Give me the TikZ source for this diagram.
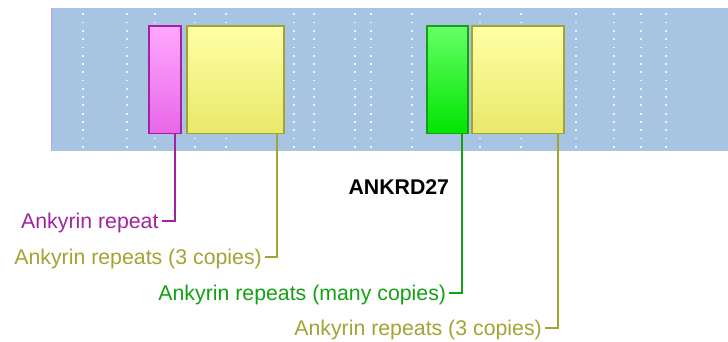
\documentclass[tikz,border=0pt]{standalone}
\usepackage{fontspec}
\setmainfont{Liberation Sans}
\definecolor{bgblue}{HTML}{A8C4E3}
\definecolor{dotc}{HTML}{EEF3FA}
\definecolor{pinkline}{HTML}{A222A2}
\definecolor{olive}{HTML}{A3A334}
\definecolor{grn}{HTML}{14A014}
\definecolor{pinkA}{HTML}{FFA8FF}
\definecolor{pinkB}{HTML}{FFA0FF}
\definecolor{pinkC}{HTML}{E866E8}
\definecolor{yelA}{HTML}{FFFFA6}
\definecolor{yelB}{HTML}{FFFF9C}
\definecolor{yelC}{HTML}{E8E86A}
\definecolor{grnA}{HTML}{66FF66}
\definecolor{grnB}{HTML}{38F838}
\definecolor{grnC}{HTML}{00E400}
\begin{document}
\begin{tikzpicture}[x=1pt,y=-1pt,
  domainbox/.style={draw, line width=1.8pt, inner sep=0pt, anchor=north west, minimum height=107.4pt},
  pinkbox/.style={domainbox, draw=pinkline, top color=pinkA, middle color=pinkB, bottom color=pinkC},
  yelbox/.style={domainbox, draw=olive, top color=yelA, middle color=yelB, bottom color=yelC},
  grnbox/.style={domainbox, draw=grn, top color=grnA, middle color=grnB, bottom color=grnC},
  conn/.style={line width=2pt},
  lab/.style={anchor=base east, inner sep=0pt, font=\fontsize{21.3}{25}\selectfont}
]
\useasboundingbox (0,0) rectangle (728,342);
% background band
\fill[bgblue] (51,8) rectangle (728,151);
\draw[pinkC!40!bgblue, line width=1pt] (51.5,8) -- (51.5,151);
% dotted grid
\foreach \x in {83.3,127,155.3,194.7,226.3,294,314.3,355,370.7,412.3,480,521,576,614,641,666}{
  \foreach \k in {0,...,16}{
    \fill[dotc] (\x-0.9,14.3+8.28*\k-0.9) rectangle ++(1.8,1.8);
  }
}
% domains
\node[pinkbox, minimum width=32pt] (pbox) at (148.3,25.3) {};
\node[yelbox, minimum width=96.7pt] (ybox1) at (186,25.3) {};
\node[grnbox, minimum width=41.3pt] (gbox) at (425.7,25.3) {};
\node[yelbox, minimum width=92.6pt] (ybox2) at (470.7,25.3) {};
% tick ends
\coordinate (c1) at (161.7,221);
\coordinate (c2) at (265,256.7);
\coordinate (c3) at (449.3,292.7);
\coordinate (c4) at (545,327.7);
% connectors
\draw[conn, pinkline] ([xshift=-7.3pt]pbox.south east) |- (c1);
\draw[conn, olive] ([xshift=-7.3pt]ybox1.south east) |- (c2);
\draw[conn, grn] ([xshift=-7.3pt]gbox.south east) |- (c3);
\draw[conn, olive] ([xshift=-7.3pt]ybox2.south east) |- (c4);
% labels
\node[lab, text=pinkline] (l1) at ([xshift=-3pt,yshift=-7.4pt]c1) {Ankyrin repeat};
\node[lab, text=olive] (l2) at ([xshift=-3pt,yshift=-7.4pt]c2) {Ankyrin repeats (3 copies)};
\node[lab, text=grn] (l3) at ([xshift=-3pt,yshift=-7.4pt]c3) {Ankyrin repeats (many copies)};
\node[lab, text=olive] (l4) at ([xshift=-3pt,yshift=-7.4pt]c4) {Ankyrin repeats (3 copies)};
\node[anchor=base west, inner sep=0pt, font=\fontsize{21.3}{25}\selectfont\bfseries] (title) at (348.3,194.3) {ANKRD27};
\end{tikzpicture}
\end{document}
